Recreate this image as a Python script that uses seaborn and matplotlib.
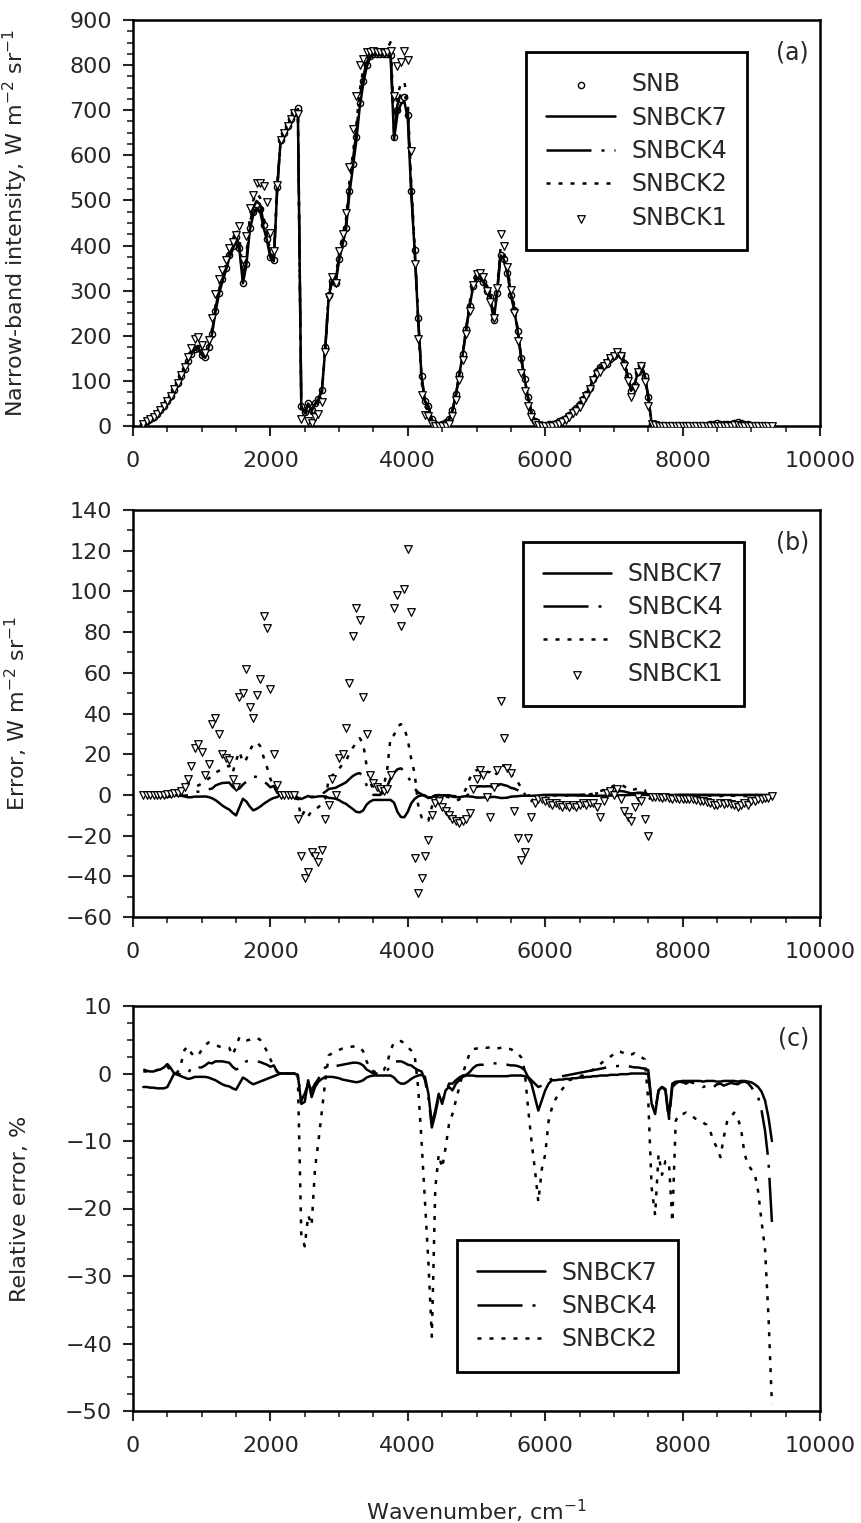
import numpy as np
import pandas as pd
import matplotlib.pyplot as plt
from matplotlib.ticker import MultipleLocator
import seaborn as sns

sns.set_style('ticks')
plt.rcParams['font.family'] = ['DejaVu Sans']
plt.rcParams['mathtext.default'] = 'regular'
plt.rcParams['font.size'] = 16
plt.rcParams['axes.linewidth'] = 1.8

# narrow-band centres, 50 cm-1 apart
wavenumber = np.arange(150, 9301, 50)

# SNB narrow-band intensity, W m-2 sr-1
snb = [5, 10, 15, 20, 27, 35, 45, 55, 67, 80,
       95, 110, 127, 145, 160, 170, 172, 158, 152, 175,
       205, 255, 295, 325, 350, 378, 400, 420, 395, 318,
       360, 440, 475, 490, 482, 445, 415, 375, 367, 530,
       635, 650, 665, 680, 693, 704, 45, 30, 50, 35,
       50, 60, 80, 175, 290, 322, 318, 370, 405, 440,
       520, 580, 640, 715, 765, 800, 820, 825, 825, 825,
       825, 825, 822, 640, 700, 725, 730, 690, 520, 390,
       240, 110, 55, 45, 15, 5, 3, 5, 8, 15,
       35, 70, 115, 160, 215, 265, 310, 328, 328, 320,
       300, 285, 235, 295, 380, 370, 340, 290, 258, 210,
       150, 105, 65, 30, 10, 5, 3, 3, 4, 5,
       7, 10, 14, 18, 25, 33, 40, 48, 60, 72,
       85, 105, 122, 130, 135, 138, 148, 155, 162, 158,
       140, 110, 78, 90, 120, 135, 110, 65, 5, 3,
       2, 2, 2, 2, 2, 2, 2, 2, 2, 2,
       2, 3, 3, 3, 3, 4, 5, 6, 5, 4,
       4, 5, 7, 8, 6, 5, 4, 3, 3, 2,
       2, 1.5, 1, 0.5]

# SNBCK1 absolute error, W m-2 sr-1
err_ck1 = [0, 0, 0, 0, 0, 0, 0, 0.5, 0.5, 1,
           1, 2, 4, 8, 14, 23, 25, 21, 10, 15,
           35, 38, 30, 20, 18, 17, 8, 4, 48, 50,
           62, 43, 38, 49, 57, 88, 82, 52, 20, 5,
           0, 0, 0, 0, 0, -12, -30, -41, -38, -28,
           -30, -33, -27, -12, -5, 8, 0, 18, 20, 33,
           55, 78, 92, 86, 48, 30, 10, 6, 4, 3,
           2, 3, 10, 92, 98, 83, 101, 121, 90, -31,
           -48, -41, -30, -22, -10, -4, -3, -6, -8, -10,
           -12, -13, -14, -13, -12, -9, 3, 8, 12, 10,
           -1, -11, 4, 12, 46, 28, 13, 11, -8, -21,
           -32, -28, -21, -11, -4, -2, -2, -3, -4, -5,
           -4, -5, -6, -5, -6, -5, -6, -5, -4, -5,
           -4, -4, -6, -11, -3, 1, 2, 0, 3, -2,
           -8, -11, -13, -6, -1, -3, -12, -20, -1, -1,
           -1, -1.5, -1, -1.5, -2, -1.5, -2, -2, -2, -2,
           -2, -2.5, -3, -3, -3.5, -4, -5, -5, -4, -4.5,
           -4, -4.5, -5, -6, -5, -4, -5, -3, -3, -2,
           -2, -1.5, -1.5, -0.5]

# relative errors, %
rel_ck7 = [-2.0, -2.0, -2.1, -2.1, -2.2, -2.2, -2.2, -2.0, -1.0, 0.0,
           -0.2, -0.4, -0.6, -0.8, -0.7, -0.5, -0.5, -0.5, -0.5, -0.6,
           -0.8, -1.0, -1.3, -1.6, -1.8, -1.9, -2.2, -2.4, -1.5, -0.6,
           -0.9, -1.3, -1.6, -1.4, -1.2, -1.0, -0.8, -0.6, -0.4, -0.2,
           0, 0, 0, 0, 0, -0.2, -4.5, -4.2, -1.0, -3.5,
           -2.0, -1.2, -0.8, -0.5, -0.5, -0.5, -0.6, -0.7, -0.9, -1.0,
           -1.1, -1.2, -1.3, -1.2, -1.0, -0.6, -0.4, -0.3, -0.3, -0.3,
           -0.3, -0.3, -0.3, -0.6, -1.2, -1.5, -1.5, -1.2, -0.8, -0.5,
           -0.3, -0.2, -0.5, -3.0, -7.5, -5.5, -3.0, -4.5, -2.5, -2.0,
           -2.5, -1.5, -1.0, -0.5, -0.3, -0.3, -0.3, -0.4, -0.4, -0.4,
           -0.4, -0.4, -0.4, -0.4, -0.4, -0.4, -0.4, -0.3, -0.3, -0.3,
           -0.3, -0.4, -0.6, -1.5, -3.5, -5.5, -4.0, -2.5, -1.5, -1.0,
           -1.0, -0.9, -0.9, -0.8, -0.8, -0.7, -0.7, -0.6, -0.6, -0.5,
           -0.5, -0.4, -0.4, -0.3, -0.3, -0.3, -0.2, -0.2, -0.2, -0.1,
           -0.1, -0.1, 0, 0, 0, 0, 0, -0.1, -4.5, -6.0,
           -2.5, -2.0, -2.3, -6.5, -1.5, -1.2, -1.2, -1.1, -1.1, -1.1,
           -1.1, -1.1, -1.1, -1.2, -1.1, -1.1, -1.1, -1.2, -1.2, -1.1,
           -1.1, -1.1, -1.1, -1.2, -1.1, -1.1, -1.2, -1.3, -1.6, -2.0,
           -2.7, -4.0, -6.5, -10.0]

rel_ck4 = [0.6, 0.4, 0.3, 0.3, 0.5, 0.6, 0.9, 1.4, 0.8, 0.0,
           0.0, -0.2, -0.3, -0.1, 1.0, 1.0, 0.9, 0.9, 1.2, 1.6,
           1.5, 1.8, 1.8, 1.8, 1.7, 1.6, 1.0, 0.6, 0.8, 1.6,
           1.8, 1.9, 1.9, 1.8, 1.7, 1.5, 1.3, 1.0, 1.2, 0.2,
           0, 0, 0, 0, 0, -0.3, -4.0, -3.0, -1.5, -2.5,
           -1.5, -0.8, 0.5, 0.9, 1.0, 1.0, 1.1, 1.2, 1.3, 1.4,
           1.5, 1.6, 1.6, 1.5, 1.2, 0.6, 0.3, 0.0, 0.0, 0.0,
           0.2, 0.5, 1.0, 1.7, 1.8, 1.8, 1.6, 1.3, 1.2, 0.8,
           0.5, 0.3, -1.0, -3.5, -8.0, -6.0, -3.5, -4.0, -3.0, -1.5,
           -1.5, -1.0, -0.6, -0.3, -0.2, 0.2, 0.8, 1.2, 1.3, 1.3,
           1.4, 1.5, 1.5, 1.5, 1.4, 1.3, 1.3, 1.2, 1.2, 1.1,
           0.9, 0.5, -0.5, -1.0, -1.5, -2.0, -1.8, -1.5, -1.0, -0.8,
           -0.6, -0.5, -0.4, -0.3, -0.2, -0.1, 0.0, 0.1, 0.2, 0.3,
           0.4, 0.5, 0.6, 0.7, 0.8, 0.9, 1.0, 1.0, 1.1, 1.2,
           1.2, 1.1, 1.0, 0.9, 0.9, 0.8, 0.7, 0.5, -4.5, -5.5,
           -2.5, -2.0, -2.5, -7.0, -2.0, -1.5, -1.2, -1.3, -1.5, -1.2,
           -1.4, -1.3, -1.5, -2.0, -1.8, -2.2, -2.0, -1.6, -1.5, -1.8,
           -1.6, -1.4, -1.5, -1.6, -1.3, -1.2, -1.4, -2.0, -2.8, -3.5,
           -5.5, -8.5, -13.0, -22.0]

rel_ck2 = [0.3, 0.3, 0.3, 0.4, 0.5, 0.6, 0.8, 1.0, 0.5, 0.0,
           0.2, 1.5, 3.5, 4.0, 3.0, 2.5, 2.7, 3.5, 4.2, 4.6,
           4.5, 4.3, 4.0, 3.9, 3.9, 3.8, 2.7, 4.0, 5.4, 5.0,
           4.9, 5.0, 5.2, 5.3, 5.0, 4.2, 3.3, 2.1, 1.0, 0.3,
           0, 0, 0, 0, 0, -0.5, -24.0, -25.6, -21.0, -22.5,
           -14.0, -10.0, -5.5, -1.0, 2.7, 3.0, 3.3, 3.5, 3.7, 3.8,
           3.9, 4.0, 4.0, 3.9, 3.3, 1.8, 0.8, 0.3, 0.2, 0.3,
           0.5, 1.5, 3.5, 4.6, 4.8, 4.8, 4.5, 3.9, 3.4, 2.7,
           -2.0, -10.0, -19.0, -28.0, -39.0, -17.0, -12.0, -14.0, -11.0, -7.5,
           -6.0, -4.0, -2.0, 0.0, 1.5, 3.0, 3.6, 3.7, 3.8, 3.9,
           3.8, 3.9, 3.8, 3.7, 3.8, 3.9, 3.7, 3.6, 3.3, 3.0,
           2.4, 0.5, -5.0, -10.0, -14.2, -19.0, -14.2, -12.0, -7.0, -5.0,
           -3.8, -3.0, -2.3, -1.7, -1.0, -0.8, -0.6, -0.4, -0.3, 0.0,
           0.3, 0.6, 1.0, 1.4, 1.8, 2.1, 2.5, 2.9, 3.3, 3.2,
           3.0, 2.7, 2.8, 3.0, 2.6, 2.4, 2.1, -4.0, -17.0, -21.0,
           -12.0, -15.0, -13.0, -13.0, -22.0, -7.0, -6.0, -6.0, -5.8, -6.2,
           -6.4, -6.8, -7.0, -7.3, -7.6, -8.5, -10.0, -11.0, -12.4, -9.4,
           -7.0, -6.5, -5.8, -6.5, -8.2, -11.8, -13.5, -14.2, -14.8, -17.5,
           -22.0, -26.0, -36.0, -49.0]

df = pd.DataFrame({'wn': wavenumber, 'snb': snb, 'err1': err_ck1,
                   'rel7': rel_ck7, 'rel4': rel_ck4, 'rel2': rel_ck2})
for k in ['7', '4', '2']:
    df['err' + k] = df.snb * df['rel' + k] / 100
    df['ck' + k] = df.snb + df['err' + k]
df['ck1'] = df.snb + df.err1

LW = 1.8
styles = {'7': '-', '4': (0, (18, 4, 1.2, 4)), '2': (0, (1.6, 3.2))}
names = {'7': 'SNBCK7', '4': 'SNBCK4', '2': 'SNBCK2'}
tick_fs = 16

fig = plt.figure(figsize=(8.61, 15.23), dpi=100)
L, W = 133 / 861, 687 / 861
ax_a = fig.add_axes([L, 1 - 426 / 1523, W, 406 / 1523])
ax_b = fig.add_axes([L, 1 - 917 / 1523, W, 407 / 1523])
ax_c = fig.add_axes([L, 1 - 1411 / 1523, W, 405 / 1523])


def line(ax, col, k):
    sns.lineplot(data=df, x='wn', y=col, ax=ax, color='k', lw=LW, linestyle=styles[k],
                 label=names[k], sort=False, estimator=None, zorder=2)


# (a) intensities
sns.scatterplot(data=df, x='wn', y='snb', ax=ax_a, marker='o', s=20, color='white',
                edgecolor='k', linewidth=1.0, label='SNB', zorder=1)
for k in ['7', '4', '2']:
    line(ax_a, 'ck' + k, k)
sns.scatterplot(data=df, x='wn', y='ck1', ax=ax_a, marker='v', s=30, color='white',
                edgecolor='k', linewidth=0.9, label='SNBCK1', zorder=3)

# (b) absolute error
for k in ['7', '4', '2']:
    line(ax_b, 'err' + k, k)
sns.scatterplot(data=df, x='wn', y='err1', ax=ax_b, marker='v', s=30, color='white',
                edgecolor='k', linewidth=0.9, label='SNBCK1', zorder=3)

# (c) relative error
for k in ['7', '4', '2']:
    line(ax_c, 'rel' + k, k)

setup = [(ax_a, (0, 900), 100, 25, 'Narrow-band intensity, W m$^{-2}$ sr$^{-1}$', '(a)'),
         (ax_b, (-60, 140), 20, 10, 'Error, W m$^{-2}$ sr$^{-1}$', '(b)'),
         (ax_c, (-50, 10), 10, 2.5, 'Relative error, %', '(c)')]
for ax, ylim, ymaj, ymin, ylab, tag in setup:
    ax.set_xlim(0, 10000)
    ax.set_ylim(*ylim)
    ax.xaxis.set_major_locator(MultipleLocator(2000))
    ax.xaxis.set_minor_locator(MultipleLocator(500))
    ax.yaxis.set_major_locator(MultipleLocator(ymaj))
    ax.yaxis.set_minor_locator(MultipleLocator(ymin))
    ax.tick_params(which='major', direction='out', length=7, width=1.5, labelsize=tick_fs)
    ax.tick_params(axis='x', which='major', pad=11)
    ax.tick_params(axis='y', which='major', pad=8)
    ax.tick_params(which='minor', direction='out', length=4, width=1.2)
    for sp in ax.spines.values():
        sp.set_visible(True)
        sp.set_linewidth(1.8)
        sp.set_color('k')
    ax.set_ylabel(ylab, fontsize=16)
    ax.yaxis.set_label_coords(-0.15, 0.5)
    ax.set_xlabel('')
    ax.text(0.984, 0.92, tag, transform=ax.transAxes, ha='right', va='center', fontsize=17)

ax_c.set_xlabel('Wavenumber, cm$^{-1}$', fontsize=16)
ax_c.xaxis.set_label_coords(0.5, -0.215)


def legend(ax, order, anchor):
    h, lab = ax.get_legend_handles_labels()
    hd = dict(zip(lab, h))
    leg = ax.legend([hd[o] for o in order], order, loc='upper right', bbox_to_anchor=anchor,
                    fontsize=17, frameon=True, fancybox=False, framealpha=1, edgecolor='k',
                    handlelength=2.9, handletextpad=0.7, labelspacing=0.4, borderpad=0.85,
                    borderaxespad=0)
    leg.get_frame().set_linewidth(2)


legend(ax_a, ['SNB', 'SNBCK7', 'SNBCK4', 'SNBCK2', 'SNBCK1'], (0.894, 0.921))
legend(ax_b, ['SNBCK7', 'SNBCK4', 'SNBCK2', 'SNBCK1'], (0.889, 0.922))
legend(ax_c, ['SNBCK7', 'SNBCK4', 'SNBCK2'], (0.793, 0.421))

fig.savefig('out.png', dpi=100)
